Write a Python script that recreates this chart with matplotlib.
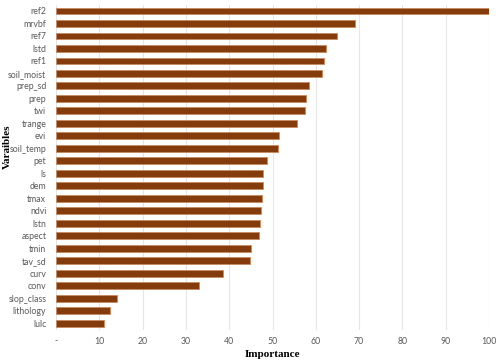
import numpy as np
import matplotlib.pyplot as plt

variables = ['ref2', 'mrvbf', 'ref7', 'lstd', 'ref1', 'soil_moist', 'prep_sd', 'prep', 'twi',
             'trange', 'evi', 'soil_temp', 'pet', 'ls', 'dem', 'tmax', 'ndvi', 'lstn', 'aspect',
             'tmin', 'tav_sd', 'curv', 'conv', 'slop_class', 'lithology', 'lulc']
importance = [100, 69.1, 64.9, 62.3, 62.0, 61.5, 58.4, 57.7, 57.6, 55.6, 51.6, 51.2, 48.8, 47.8,
              47.7, 47.5, 47.3, 47.0, 46.9, 45.0, 44.8, 38.5, 33.0, 14.2, 12.5, 11.2]
xticks = [0, 10, 20, 30, 40, 50, 60, 70, 80, 90, 100]
xticklabels = ['-', '10', '20', '30', '40', '50', '60', '70', '80', '90', '100']

fig = plt.figure(figsize=(5, 3.62), dpi=100)
ax = fig.add_axes([0.112, 0.0895, 0.866, 0.8975])

y = np.arange(len(variables))
ax.barh(y, importance, height=0.55, color='#843c0c', edgecolor='#c98a60', linewidth=0.6, zorder=3)
ax.set_ylim(len(variables) - 0.5, -0.5)
ax.set_xlim(0, 100)
ax.set_yticks(y)
ax.set_yticklabels(variables, fontsize=6.3, color='#595959', family='Lato')
ax.set_xticks(xticks)
ax.set_xticklabels(xticklabels, fontsize=6.3, color='#595959', family='Lato')
ax.tick_params(axis='y', length=0, pad=7)
ax.tick_params(axis='x', length=0, pad=5)
ax.grid(axis='x', color='#e6e6e6', linewidth=0.8, zorder=0)
for s in ax.spines.values():
    s.set_visible(False)

ax.set_xlabel('Importance', family='Liberation Serif', fontweight='bold', fontsize=8, labelpad=3)
fig.text(7 / 500, 1 - 147 / 362, 'Varaibles', family='Liberation Serif', fontweight='bold',
         fontsize=8, rotation=90, ha='center', va='center')

fig.savefig('out.png', dpi=100)
